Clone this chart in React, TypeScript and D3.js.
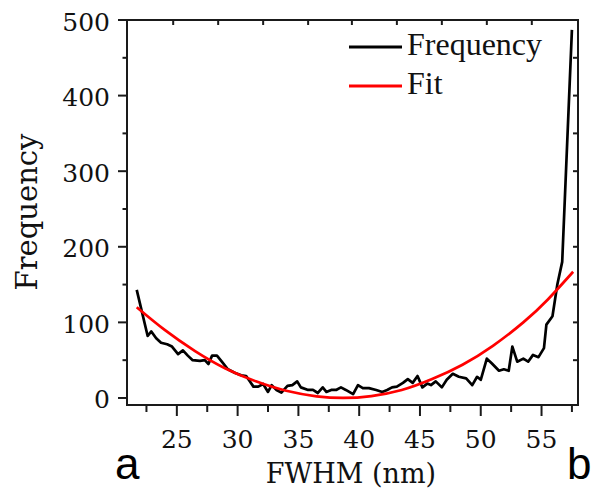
import React from "react";
import * as d3 from "d3";

const W = 591;
const H = 495;

// Histogram of FWHM (nm)
const fwhm = [
  21.7, 22.6, 22.9, 23.3, 23.7, 24.2, 24.6, 25.1, 25.5, 25.9, 26.3, 26.9, 27.3, 27.6, 27.9, 28.3, 28.7,
  29.2, 29.8, 30.3, 30.7, 31.0, 31.3, 31.7, 32.1, 32.5, 32.8, 33.2, 33.6, 34.1, 34.5, 34.9, 35.2, 35.8,
  36.2, 36.6, 37.0, 37.3, 37.7, 38.1, 38.5, 38.9, 39.5, 39.9, 40.3, 40.8, 41.4, 41.9, 42.3, 42.7, 43.1,
  43.6, 44.0, 44.4, 44.8, 45.2, 45.6, 45.9, 46.3, 46.8, 47.2, 47.7, 48.2, 48.8, 49.3, 49.7, 50.0, 50.5,
  50.9, 51.5, 51.9, 52.3, 52.6, 53.0, 53.5, 53.9, 54.3, 54.75, 55.2, 55.4, 55.9, 56.3, 56.7, 57.5,
];
const frequency = [
  143, 82, 88, 79, 73, 71, 68, 58, 63, 56, 50, 49, 50, 45, 56, 56, 48,
  38, 33, 30, 29, 22, 15, 15, 18.5, 8, 17, 10.6, 7, 16, 17, 22, 14, 10.6,
  10.6, 6.6, 14, 8, 10.6, 10.6, 14, 10.6, 5, 17, 13, 13, 10.6, 8, 10.6, 14, 15,
  20, 25, 20, 29, 14, 19, 17, 22, 14, 24, 32, 28, 26, 17, 28, 24, 52,
  46, 36, 38, 36, 68, 48, 52, 48, 57, 54, 66, 97, 108, 150, 180, 487,
];

// Fit curve
const fitX = [21.7, 24.0, 26.5, 29.0, 31.5, 34.0, 36.5, 38.7, 41.0, 43.5, 46.0, 48.5, 51.0, 53.5, 55.5, 57.6];
const fitY = [120, 90, 62, 39, 22, 9.5, 2.2, 0, 2.5, 10.5, 25, 44, 69, 100, 130, 167];

const xMajorTicks = [25, 30, 35, 40, 45, 50, 55];
const xMinorTicks = [22.5, 27.5, 32.5, 37.5, 42.5, 47.5, 52.5, 57.5];
const yMajorTicks = [0, 100, 200, 300, 400, 500];
const yMinorTicks = [50, 150, 250, 350, 450];
const topTicks = [24.7, 28.4, 32.1, 35.8, 39.4, 43.1, 46.8, 50.5, 54.2];
const rightTicks = [50, 100, 150, 200, 250, 300, 350, 400, 450];

const legendItems = [
  { label: "Frequency", color: "#000000" },
  { label: "Fit", color: "#ff0000" },
];

export default function App() {
  const left = 127;
  const right = 578;
  const top = 20;
  const bottom = 405;

  const x = d3.scaleLinear().domain([20.9, 58]).range([left, right]);
  const y = d3.scaleLinear().domain([-9.3, 500]).range([bottom, top]);

  const dataLine = d3
    .line<number>()
    .x((_, i) => x(fwhm[i]))
    .y((d) => y(d))(frequency) as string;

  const fitLine = d3
    .line<number>()
    .curve(d3.curveNatural)
    .x((_, i) => x(fitX[i]))
    .y((d) => y(d))(fitY) as string;

  const axisColor = "#1a1a1a";
  const tickFont = "'DejaVu Serif', serif";

  return (
    <svg
      width={W}
      height={H}
      viewBox={`0 0 ${W} ${H}`}
      style={{ position: "absolute", left: 0, top: 0, background: "#fff" }}
    >
      <rect x={0} y={0} width={W} height={H} fill="#fff" />

      {/* data */}
      <path d={dataLine} fill="none" stroke="#000" strokeWidth={2.7} strokeLinejoin="round" />
      <path d={fitLine} fill="none" stroke="#ff0000" strokeWidth={2.7} />

      {/* frame */}
      <rect x={left} y={top} width={right - left} height={bottom - top} fill="none" stroke={axisColor} strokeWidth={2} />

      {/* bottom ticks */}
      {xMajorTicks.map((t) => (
        <line key={"xM" + t} x1={x(t)} x2={x(t)} y1={bottom} y2={bottom + 11} stroke={axisColor} strokeWidth={2} />
      ))}
      {xMinorTicks.map((t) => (
        <line key={"xm" + t} x1={x(t)} x2={x(t)} y1={bottom} y2={bottom + 7} stroke={axisColor} strokeWidth={2} />
      ))}
      {xMajorTicks.map((t) => (
        <text
          key={"xl" + t}
          x={x(t)}
          y={448}
          textAnchor="middle"
          fontFamily={tickFont}
          fontSize={25}
          fill="#111"
        >
          {t}
        </text>
      ))}

      {/* top ticks */}
      {topTicks.map((t) => (
        <line key={"tt" + t} x1={x(t)} x2={x(t)} y1={top} y2={top + 5} stroke={axisColor} strokeWidth={2} />
      ))}

      {/* left ticks */}
      {yMajorTicks.map((t) => (
        <line key={"yM" + t} x1={left - 9} x2={left} y1={y(t)} y2={y(t)} stroke={axisColor} strokeWidth={2} />
      ))}
      {yMinorTicks.map((t) => (
        <line key={"ym" + t} x1={left - 4.5} x2={left} y1={y(t)} y2={y(t)} stroke={axisColor} strokeWidth={2} />
      ))}
      {yMajorTicks.map((t) => (
        <text
          key={"yl" + t}
          x={110}
          y={y(t) + 2}
          textAnchor="end"
          dominantBaseline="central"
          fontFamily={tickFont}
          fontSize={25}
          fill="#111"
        >
          {t}
        </text>
      ))}

      {/* right ticks */}
      {rightTicks.map((t) => (
        <line key={"rt" + t} x1={right - 5} x2={right} y1={y(t)} y2={y(t)} stroke={axisColor} strokeWidth={2} />
      ))}

      {/* axis titles */}
      <text
        x={351}
        y={483}
        textAnchor="middle"
        fontFamily={tickFont}
        fontSize={27}
        fill="#111"
      >
        FWHM (nm)
      </text>
      <text
        transform={`translate(37, 212) rotate(-90)`}
        textAnchor="middle"
        fontFamily={tickFont}
        fontSize={29}
        fill="#111"
      >
        Frequency
      </text>

      {/* panel letters */}
      <text x={115} y={479} fontFamily="'Liberation Sans', Arial, sans-serif" fontSize={44} fill="#000">
        a
      </text>
      <text x={567} y={479} fontFamily="'Liberation Sans', Arial, sans-serif" fontSize={44} fill="#000">
        b
      </text>

      {/* legend */}
      {legendItems.map((item, i) => (
        <g key={item.label} transform={`translate(349, ${47 + i * 39})`}>
          <line x1={0} x2={53} y1={0} y2={0} stroke={item.color} strokeWidth={3} />
          <text x={58} y={8} fontFamily="'Liberation Serif', 'Times New Roman', serif" fontSize={32} fill="#111">
            {item.label}
          </text>
        </g>
      ))}
    </svg>
  );
}
